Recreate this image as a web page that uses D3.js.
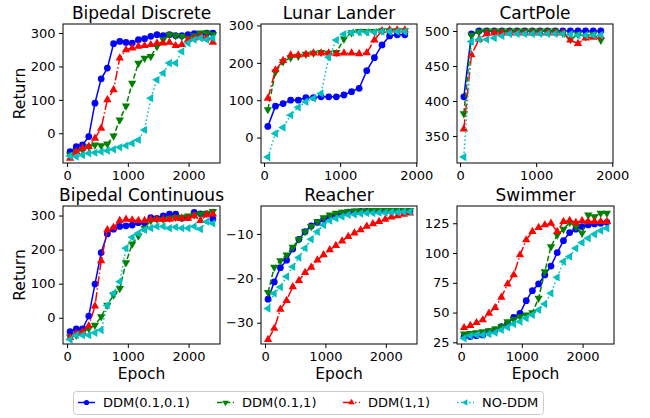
<!DOCTYPE html>
<html>
<head>
<meta charset="utf-8">
<script src="https://cdn.jsdelivr.net/npm/d3@7"></script>
<style>
body { margin: 0; background: #fff; }
svg { font-family: "DejaVu Sans", sans-serif; }
</style>
</head>
<body>
<svg id="chart" width="650" height="418"></svg>
<script>
// legend / series names
var seriesNames = ["DDM(0.1,0.1)", "DDM(0.1,1)", "DDM(1,1)", "NO-DDM"];
var panelTitles = ["Bipedal Discrete", "Lunar Lander", "CartPole",
                   "Bipedal Continuous", "Reacher", "Swimmer"];

// epochs
var epochsLong = [50, 152, 254, 357, 459, 561, 663, 765, 867, 970, 1072, 1174,
                  1276, 1378, 1480, 1583, 1685, 1787, 1889, 1991, 2093, 2196, 2298, 2400];
var epochsShort = [50, 150, 250, 350, 450, 550, 650, 750, 850, 950,
                   1050, 1150, 1250, 1350, 1450, 1550, 1650, 1750, 1850];

// returns, order: DDM(0.1,0.1), DDM(0.1,1), DDM(1,1), NO-DDM
var bipedalDiscrete = [
  [-55, -40, -35, -10, 90, 163, 195, 268, 275, 272, 270, 280, 283, 290, 295, 292, 295, 292, 292, 295, 298, 295, 300, 300],
  [-65, -55, -50, -40, -35, -37, -32, -8, 40, 82, 150, 210, 225, 230, 260, 280, 295, 292, 290, 285, 292, 300, 300, 295],
  [-75, -55, -45, -40, -15, 15, 100, 130, 225, 250, 255, 260, 262, 265, 270, 270, 272, 262, 265, 280, 285, 290, 285, 272],
  [-68, -70, -65, -60, -58, -55, -52, -48, -42, -37, -30, -20, 10, 105, 160, 180, 210, 210, 245, 270, 280, 285, 280, 285]
];
var lunarLander = [
  [30, 84, 91, 100, 100, 107, 107, 109, 109, 109, 114, 123, 132, 179, 214, 248, 272, 275, 275],
  [75, 176, 203, 214, 218, 223, 226, 228, 226, 228, 264, 281, 284, 284, 284, 286, 286, 286, 286],
  [105, 181, 206, 221, 221, 223, 226, 226, 226, 224, 226, 226, 224, 227, 261, 286, 288, 288, 288],
  [-52, 11, 27, 60, 81, 96, 105, 118, 215, 261, 277, 281, 282, 282, 282, 284, 284, 284, 284]
];
var cartPole = [
  [406, 496, 500, 500, 500, 500, 500, 500, 500, 500, 500, 500, 500, 500, 500, 500, 500, 500, 500],
  [382, 494, 499, 500, 500, 500, 500, 500, 500, 500, 500, 500, 500, 497, 488, 495, 492, 495, 487],
  [360, 466, 488, 496, 497, 497, 497, 497, 497, 497, 497, 497, 497, 497, 487, 482, 490, 491, 492],
  [320, 485, 488, 488, 490, 493, 496, 496, 496, 496, 496, 496, 496, 496, 495, 494, 494, 494, 494]
];
var bipedalContinuous = [
  [-41, -33, -33, 5, 99, 191, 246, 260, 268, 270, 272, 279, 279, 294, 292, 299, 304, 304, 292, 294, 309, 305, 305, 290],
  [-56, -51, -44, -31, -22, 3, 37, 67, 86, 162, 217, 240, 263, 285, 289, 289, 292, 295, 295, 299, 302, 305, 307, 312],
  [-58, -46, -41, -24, 34, 167, 258, 265, 285, 289, 287, 285, 285, 289, 289, 289, 289, 292, 292, 292, 299, 285, 302, 304],
  [-64, -51, -51, -51, -44, -36, 37, 72, 106, 204, 236, 248, 258, 263, 268, 268, 263, 266, 263, 263, 268, 260, 282, 277]
];
var reacher = [
  [-24.7, -20.8, -17.6, -15.9, -13.4, -11.2, -9.5, -8.2, -7.4, -6.7, -6.1, -5.6, -5.3, -5.1, -5.0, -4.9, -4.9, -4.9, -4.9, -4.9, -4.9, -4.9, -4.9, -4.9],
  [-23.2, -17.5, -16.0, -14.7, -13.0, -11.2, -9.5, -8.3, -7.2, -6.3, -5.7, -5.3, -5.1, -5.0, -4.8, -4.8, -4.8, -4.7, -4.7, -4.7, -4.7, -4.7, -4.7, -4.7],
  [-33.8, -31.3, -27.0, -25.0, -21.9, -20.5, -18.7, -17.5, -15.9, -14.7, -13.6, -12.6, -11.6, -10.6, -9.8, -9.1, -8.3, -7.7, -7.2, -6.7, -6.2, -5.9, -5.6, -5.3],
  [-26.8, -23.4, -22.0, -19.6, -17.4, -15.3, -13.2, -11.2, -9.5, -8.0, -7.0, -6.5, -6.1, -5.7, -5.6, -5.4, -5.3, -5.3, -5.2, -5.2, -5.1, -5.1, -5.0, -5.0]
];
var swimmer = [
  [29.8, 29.8, 30.6, 31.2, 34.0, 35.4, 38.2, 41.0, 46.0, 49.4, 60.0, 68.4, 74.0, 81.6, 89.1, 100.3, 110.4, 117.2, 120.0, 122.2, 123.6, 124.4, 125.0, 125.8],
  [32.0, 32.6, 33.1, 34.0, 34.8, 36.2, 38.2, 42.4, 44.3, 46.6, 48.0, 50.0, 62.0, 84.4, 105.4, 115.2, 120.0, 125.6, 122.2, 116.6, 132.0, 130.6, 133.4, 133.4],
  [37.3, 39.0, 41.5, 43.8, 49.4, 54.1, 62.8, 74.0, 81.6, 98.4, 111.0, 118.0, 121.4, 123.6, 125.0, 118.0, 126.4, 127.2, 125.6, 127.0, 126.4, 126.4, 126.4, 126.4],
  [28.4, 30.3, 31.2, 31.2, 32.0, 33.1, 35.4, 37.6, 40.4, 42.4, 45.2, 48.0, 52.2, 57.2, 66.2, 79.6, 92.8, 97.0, 104.0, 108.8, 112.4, 115.8, 118.8, 120.8]
];

var xTicks = [0, 1000, 2000];
var yTicksReturn = [0, 100, 200, 300];
var yTicksCartPole = [350, 400, 450, 500];
var yTicksReacher = [-30, -20, -10];
var yTicksSwimmer = [25, 50, 75, 100, 125];

// layout of each axes box in pixels
var panels = [
  {data: bipedalDiscrete,   x: epochsLong,  box: [63, 220, 24, 163],  xDom: [-67, 2517], yDom: [-89, 327],     yTicks: yTicksReturn,   yLabel: true,  xLabel: false},
  {data: lunarLander,       x: epochsShort, box: [261, 417, 24, 163], xDom: [-40, 2010], yDom: [-68, 304],     yTicks: yTicksReturn,   yLabel: false, xLabel: false},
  {data: cartPole,          x: epochsShort, box: [457, 613, 24, 163], xDom: [-40, 2010], yDom: [311.4, 510],   yTicks: yTicksCartPole, yLabel: false, xLabel: false},
  {data: bipedalContinuous, x: epochsLong,  box: [63, 220, 206, 344], xDom: [-67, 2517], yDom: [-77, 328],     yTicks: yTicksReturn,   yLabel: true,  xLabel: true},
  {data: reacher,           x: epochsLong,  box: [261, 417, 206, 344], xDom: [-67, 2517], yDom: [-34.8, -3.7], yTicks: yTicksReacher,  yLabel: false, xLabel: true},
  {data: swimmer,           x: epochsLong,  box: [457, 614, 206, 344], xDom: [-67, 2517], yDom: [23.6, 139.5], yTicks: yTicksSwimmer,  yLabel: false, xLabel: true}
];

var styles = [
  {color: "#0000ff", dash: null,              symbol: d3.symbolCircle,   size: 36, rotate: 0},
  {color: "#008000", dash: "5.5,2.4",         symbol: d3.symbolTriangle, size: 30, rotate: 180},
  {color: "#ff0000", dash: "9.6,2.4,1.5,2.4", symbol: d3.symbolTriangle, size: 30, rotate: 0},
  {color: "#00bfbf", dash: "1.5,2.5",         symbol: d3.symbolTriangle, size: 30, rotate: -90}
];

var svg = d3.select("#chart");

panels.forEach(function (p, pi) {
    var x = d3.scaleLinear().domain(p.xDom).range([p.box[0], p.box[1]]);
    var y = d3.scaleLinear().domain(p.yDom).range([p.box[3], p.box[2]]);

    var g = svg.append("g");

    var clipId = "clip" + pi;
    g.append("clipPath").attr("id", clipId)
        .append("rect")
        .attr("x", p.box[0]).attr("y", p.box[2])
        .attr("width", p.box[1] - p.box[0]).attr("height", p.box[3] - p.box[2]);

    var plot = g.append("g").attr("clip-path", "url(#" + clipId + ")");

    var line = d3.line()
        .x(function (d) { return x(d[0]); })
        .y(function (d) { return y(d[1]); });

    p.data.forEach(function (vals, si) {
        var st = styles[si];
        var pts = vals.map(function (v, i) { return [p.x[i], v]; });
        plot.append("path")
            .attr("d", line(pts))
            .attr("fill", "none")
            .attr("stroke", st.color)
            .attr("stroke-width", 1.5)
            .attr("stroke-dasharray", st.dash);
        plot.selectAll(null)
            .data(pts)
            .enter()
            .append("path")
            .attr("d", d3.symbol().type(st.symbol).size(st.size))
            .attr("transform", function (d) {
                return "translate(" + x(d[0]) + "," + y(d[1]) + ") rotate(" + st.rotate + ")";
            })
            .attr("fill", st.color);
    });

    // frame
    g.append("rect")
        .attr("x", p.box[0]).attr("y", p.box[2])
        .attr("width", p.box[1] - p.box[0]).attr("height", p.box[3] - p.box[2])
        .attr("fill", "none").attr("stroke", "#000").attr("stroke-width", 1);

    var xAxis = g.append("g")
        .attr("transform", "translate(0," + p.box[3] + ")")
        .call(d3.axisBottom(x).tickValues(xTicks).tickSize(4).tickPadding(3.5).tickFormat(d3.format("d")));
    var yAxis = g.append("g")
        .attr("transform", "translate(" + p.box[0] + ",0)")
        .call(d3.axisLeft(y).tickValues(p.yTicks).tickSize(4).tickPadding(3.5).tickFormat(function (d) { return String(d).replace("-", "\u2212"); }));

    [xAxis, yAxis].forEach(function (a) {
        a.select(".domain").remove();
        a.selectAll("text").attr("font-size", 13).attr("font-family", "DejaVu Sans").attr("fill", "#000");
        a.selectAll("line").attr("stroke", "#000");
    });

    var cx = (p.box[0] + p.box[1]) / 2;
    g.append("text")
        .attr("x", cx).attr("y", p.box[2] - 5.5)
        .attr("text-anchor", "middle")
        .attr("font-size", 17)
        .text(panelTitles[pi]);

    if (p.yLabel) {
        var cy = (p.box[2] + p.box[3]) / 2;
        g.append("text")
            .attr("transform", "translate(25," + cy + ") rotate(-90)")
            .attr("text-anchor", "middle")
            .attr("font-size", 15.5)
            .text("Return");
    }
    if (p.xLabel) {
        g.append("text")
            .attr("x", cx).attr("y", 379)
            .attr("text-anchor", "middle")
            .attr("font-size", 15.5)
            .text("Epoch");
    }
});

// legend
var legend = svg.append("g");
legend.append("rect")
    .attr("x", 73.5).attr("y", 391.5)
    .attr("width", 470).attr("height", 23)
    .attr("rx", 3)
    .attr("fill", "#fff").attr("fill-opacity", 0.8)
    .attr("stroke", "#cccccc").attr("stroke-width", 1);

var legendX = [78, 217, 343, 457];
seriesNames.forEach(function (name, i) {
    var st = styles[i];
    var lx = legendX[i];
    legend.append("line")
        .attr("x1", lx).attr("x2", lx + 17)
        .attr("y1", 402.5).attr("y2", 402.5)
        .attr("stroke", st.color).attr("stroke-width", 1.5)
        .attr("stroke-dasharray", st.dash);
    legend.append("path")
        .attr("d", d3.symbol().type(st.symbol).size(st.size * 0.6))
        .attr("transform", "translate(" + (lx + 8.5) + ",402.5) rotate(" + st.rotate + ")")
        .attr("fill", st.color);
    legend.append("text")
        .attr("x", lx + 25).attr("y", 407)
        .attr("font-size", 13)
        .text(name);
});
</script>
</body>
</html>
